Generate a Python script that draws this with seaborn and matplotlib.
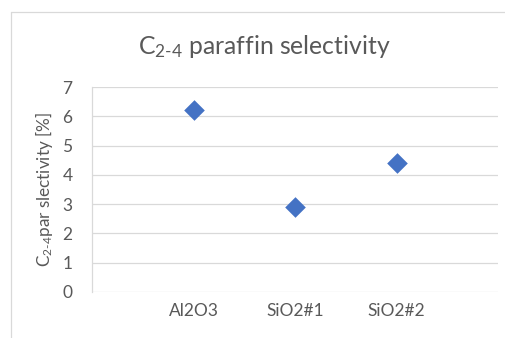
import matplotlib
matplotlib.use("Agg")
import matplotlib.pyplot as plt
from matplotlib.lines import Line2D
import seaborn as sns
import pandas as pd

categories = ["Al2O3", "SiO2#1", "SiO2#2"]
selectivity = [6.2, 2.9, 4.4]
y_ticks = [0, 1, 2, 3, 4, 5, 6, 7]

df = pd.DataFrame({"support": categories, "sel": selectivity})

sns.set_theme(style="white")
plt.rcParams["font.family"] = ["Lato", "DejaVu Sans"]
plt.rcParams["mathtext.fontset"] = "custom"
plt.rcParams["mathtext.rm"] = "Lato"
plt.rcParams["mathtext.it"] = "Lato"
plt.rcParams["mathtext.bf"] = "Lato"
plt.rcParams["mathtext.default"] = "regular"

grey = "#595959"
line_grey = "#d9d9d9"

fig = plt.figure(figsize=(5.06, 3.38), dpi=100)
ax = fig.add_axes([92/506, 1-292/338, (498-92)/506, (292-87)/338])

sns.stripplot(data=df, x="support", y="sel", jitter=False, marker="D",
              color="#4472C4", size=10.5, linewidth=0, ax=ax, zorder=3)

ax.set_xlim(-1, 3)
ax.set_ylim(0, 7)
ax.set_yticks(y_ticks)
ax.yaxis.grid(True, color=line_grey, linewidth=0.9)
ax.xaxis.grid(False)
for s in ["top", "right", "bottom"]:
    ax.spines[s].set_visible(False)
ax.spines["left"].set_color(line_grey)
ax.spines["left"].set_linewidth(0.9)
ax.tick_params(axis="both", length=0, colors=grey, labelsize=12.5)
ax.tick_params(axis="y", pad=14)
ax.tick_params(axis="x", pad=8)
ax.set_xlabel("")
ax.set_ylabel(r"C$_{2\text{-}4}$par slectivity [%]", color=grey, fontsize=12.3, labelpad=5)

fig.text(264/506, 1-47/338, r"C$_{2\text{-}4}$ paraffin selectivity", ha="center", va="center",
         color=grey, fontsize=17.8)

# chart area border
fig.add_artist(Line2D([11/506, 11/506], [0, 1-12/338], transform=fig.transFigure, color=line_grey, lw=0.9))
fig.add_artist(Line2D([11/506, 1], [1-12/338, 1-12/338], transform=fig.transFigure, color=line_grey, lw=0.9))

fig.savefig("out.png", dpi=100)
